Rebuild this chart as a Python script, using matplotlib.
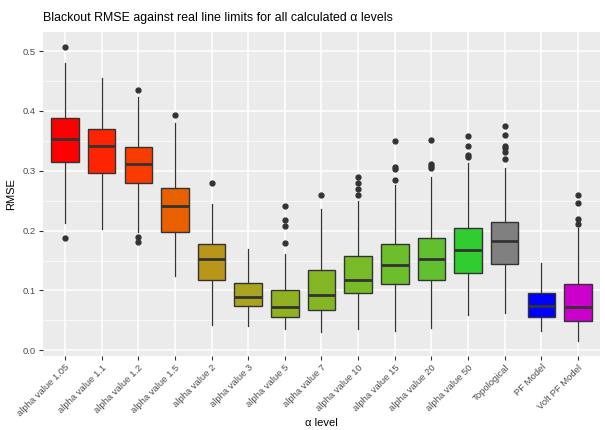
import matplotlib
matplotlib.use("Agg")
import matplotlib.pyplot as plt
from matplotlib.ticker import MultipleLocator

plt.rcParams['font.family'] = ['Liberation Sans', 'DejaVu Sans']

labels = ["alpha value 1.05", "alpha value 1.1", "alpha value 1.2", "alpha value 1.5",
          "alpha value 2", "alpha value 3", "alpha value 5", "alpha value 7",
          "alpha value 10", "alpha value 15", "alpha value 20", "alpha value 50",
          "Topological", "PF Model", "Volt PF Model"]

q1 = [0.314, 0.296, 0.280, 0.198, 0.118, 0.074, 0.055, 0.067, 0.096, 0.110, 0.118, 0.129, 0.145, 0.056, 0.049]
med = [0.353, 0.341, 0.311, 0.241, 0.153, 0.089, 0.072, 0.093, 0.117, 0.142, 0.153, 0.168, 0.183, 0.074, 0.072]
q3 = [0.388, 0.370, 0.339, 0.272, 0.178, 0.113, 0.101, 0.135, 0.158, 0.178, 0.187, 0.205, 0.214, 0.095, 0.111]
whislo = [0.212, 0.202, 0.197, 0.124, 0.042, 0.040, 0.035, 0.031, 0.036, 0.032, 0.038, 0.059, 0.062, 0.032, 0.016]
whishi = [0.480, 0.455, 0.423, 0.380, 0.244, 0.170, 0.161, 0.236, 0.249, 0.277, 0.289, 0.313, 0.305, 0.146, 0.204]
outliers = [
    [0.507, 0.187],
    [],
    [0.435, 0.189, 0.181],
    [0.393],
    [0.280],
    [],
    [0.242, 0.217, 0.208, 0.180],
    [0.259],
    [0.290, 0.280, 0.269, 0.259],
    [0.349, 0.306, 0.303, 0.284],
    [0.351, 0.311, 0.308, 0.304],
    [0.359, 0.342, 0.326, 0.323],
    [0.375, 0.360, 0.342, 0.338, 0.331, 0.320],
    [],
    [0.260, 0.247, 0.219, 0.211],
]
colors = ["#FF0000", "#FF2400", "#F83C00", "#E86000", "#B8961A", "#A8A420",
          "#90B222", "#84B624", "#78BA28", "#6CBE2C", "#60C030", "#30CC30",
          "#808080", "#0000FF", "#CC00CC"]

stats = []
for i in range(len(labels)):
    stats.append(dict(q1=q1[i], med=med[i], q3=q3[i], whislo=whislo[i],
                      whishi=whishi[i], fliers=outliers[i], label=labels[i]))

fig = plt.figure(figsize=(6.05, 4.3), dpi=100)
ax = fig.add_axes([0.0711, 0.172, 0.9206, 0.7536])
ax.set_facecolor("#EBEBEB")

pos = list(range(1, len(labels) + 1))
bp = ax.bxp(stats, positions=pos, widths=0.75, patch_artist=True, showcaps=False,
            boxprops=dict(edgecolor="#333333", linewidth=1.0),
            medianprops=dict(color="#333333", linewidth=2.0),
            whiskerprops=dict(color="#333333", linewidth=0.9),
            flierprops=dict(marker="o", markerfacecolor="#333333", markeredgecolor="#333333",
                            markersize=3.5, linestyle="none"),
            zorder=3)
for patch, c in zip(bp["boxes"], colors):
    patch.set_facecolor(c)

ax.set_xlim(0.4, len(labels) + 0.6)
ax.set_ylim(-0.0096, 0.532)
ax.yaxis.set_major_locator(MultipleLocator(0.1))
ax.yaxis.set_minor_locator(MultipleLocator(0.05))
ax.yaxis.set_major_formatter(matplotlib.ticker.FormatStrFormatter("%.1f"))
ax.grid(which="major", color="white", linewidth=1.1, zorder=0)
ax.grid(which="minor", axis="y", color="white", linewidth=0.5, zorder=0)
ax.set_axisbelow(True)
for s in ax.spines.values():
    s.set_visible(False)

ax.set_xticks(pos)
ax.set_xticklabels(labels, rotation=45, ha="right", rotation_mode="anchor")
ax.tick_params(axis="both", which="major", length=3, width=0.8, color="#333333",
               labelsize=6.8, labelcolor="#4D4D4D", pad=2)
ax.tick_params(axis="y", which="minor", length=0)

ax.set_xlabel("α level", fontsize=8, labelpad=0)
ax.set_ylabel("RMSE", fontsize=8, labelpad=5)
fig.text(0.0711, 0.95, "Blackout RMSE against real line limits for all calculated α levels",
         fontsize=8.9, ha="left", va="baseline")

fig.savefig("out.png", dpi=100)
